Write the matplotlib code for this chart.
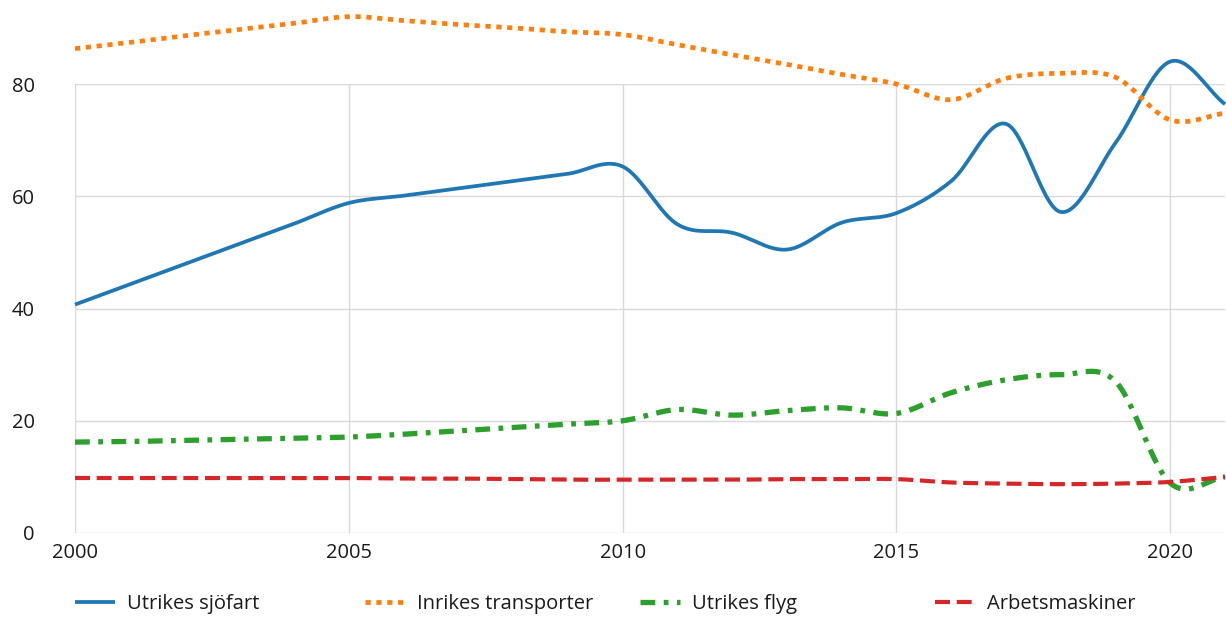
import numpy as np
import matplotlib.pyplot as plt
from matplotlib.lines import Line2D

years = np.arange(2000, 2022)

# Andel (%) per år
utrikes_sjofart = [40.7, 44.3, 47.9, 51.5, 55.1, 58.8, 60.1, 61.4, 62.7, 64.0, 65.3,
                   55.0, 53.5, 50.5, 55.3, 57.0, 62.7, 72.9, 57.2, 69.5, 84.0, 76.4]
inrikes_transporter = [86.3, 87.4, 88.6, 89.7, 90.8, 92.0, 91.3, 90.6, 90.0, 89.3, 88.8,
                       87.0, 85.2, 83.5, 81.7, 80.0, 77.2, 81.0, 81.9, 81.2, 73.6, 74.8]
utrikes_flyg = [16.2, 16.3, 16.5, 16.7, 16.9, 17.1, 17.6, 18.2, 18.8, 19.4, 20.0,
                22.0, 21.0, 21.8, 22.3, 21.3, 25.0, 27.3, 28.2, 27.0, 8.9, 10.0]
arbetsmaskiner = [9.8, 9.8, 9.8, 9.8, 9.8, 9.8, 9.7, 9.7, 9.6, 9.5, 9.5,
                  9.5, 9.5, 9.6, 9.6, 9.6, 9.0, 8.8, 8.7, 8.8, 9.1, 10.0]

series = [
    ('Utrikes sjöfart', utrikes_sjofart, '#1f77b4', '-', 2.7),
    ('Inrikes transporter', inrikes_transporter, '#ff7f0e', (0, (1.1, 1.2)), 3.4),
    ('Utrikes flyg', utrikes_flyg, '#2ca02c', (0, (2.8, 1.6, 0.9, 1.6)), 3.8),
    ('Arbetsmaskiner', arbetsmaskiner, '#d62728', (0, (3.6, 1.6)), 3.0),
]


def smooth(x, y, n=30):
    # Catmull-Rom kurva genom datapunkterna
    x = np.asarray(x, float)
    y = np.asarray(y, float)
    m = np.empty_like(y)
    m[1:-1] = (y[2:] - y[:-2]) / 2
    m[0] = y[1] - y[0]
    m[-1] = y[-1] - y[-2]
    xs, ys = [], []
    for i in range(len(x) - 1):
        t = np.linspace(0, 1, n, endpoint=False)
        h00 = 2 * t**3 - 3 * t**2 + 1
        h10 = t**3 - 2 * t**2 + t
        h01 = -2 * t**3 + 3 * t**2
        h11 = t**3 - t**2
        xs.append(x[i] + t * (x[i + 1] - x[i]))
        ys.append(h00 * y[i] + h10 * m[i] + h01 * y[i + 1] + h11 * m[i + 1])
    xs.append([x[-1]])
    ys.append([y[-1]])
    return np.concatenate(xs), np.concatenate(ys)


plt.rcParams['font.family'] = ['Open Sans', 'DejaVu Sans']
fs = 14.5
txt = '#1a1a1a'

fig = plt.figure(figsize=(12.26, 6.18), dpi=100)
ax = fig.add_axes([75 / 1226, 1 - 533 / 618, 1150 / 1226, 449 / 618])

for label, vals, color, ls, lw in series:
    sx, sy = smooth(years, vals)
    ax.plot(sx, sy, color=color, linestyle=ls, linewidth=lw, clip_on=False,
            dash_capstyle='butt', solid_capstyle='butt', zorder=3)

ax.set_xlim(2000, 2021)
ax.set_ylim(0, 80)
ax.set_xticks([2000, 2005, 2010, 2015, 2020])
ax.set_yticks([0, 20, 40, 60, 80])
ax.grid(True, color='#d9d9d9', linewidth=1)
ax.set_axisbelow(True)
for s in ax.spines.values():
    s.set_visible(False)
ax.tick_params(axis='both', length=0, labelcolor=txt, labelsize=fs)
ax.tick_params(axis='y', pad=29)
ax.tick_params(axis='x', pad=7)

leg_x = [75, 365, 640, 935]
for (label, vals, color, ls, lw), x in zip(series, leg_x):
    h = Line2D([], [], color=color, linestyle=ls, linewidth=lw,
               dash_capstyle='butt', solid_capstyle='butt')
    fig.legend(handles=[h], labels=[label], loc='center left',
               bbox_to_anchor=(x / 1226, 1 - 604 / 618), frameon=False,
               handlelength=2.0, handletextpad=0.6, borderpad=0,
               borderaxespad=0, fontsize=fs, labelcolor=txt)

fig.savefig('out.png', dpi=100)
